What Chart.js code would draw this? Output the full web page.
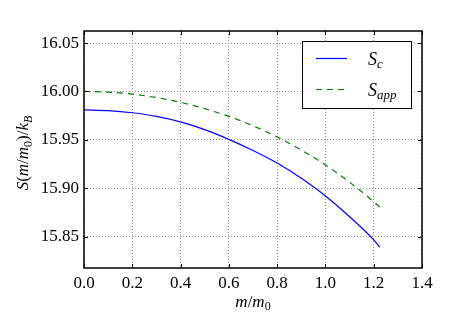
<!DOCTYPE html>
<html>
<head>
<meta charset="utf-8">
<script src="https://cdn.jsdelivr.net/npm/chart.js@4.4.0/dist/chart.umd.min.js"></script>
<style>
  html, body { margin: 0; padding: 0; background: #fff; }
  #wrap { width: 469px; height: 313px; }
</style>
</head>
<body>
<div id="wrap"><canvas id="entropyChart" width="469" height="313"></canvas></div>
<script>
// --- Data ---
const mRatio = [0, 0.1, 0.2, 0.3, 0.4, 0.5, 0.6, 0.7, 0.8, 0.9, 1.0, 1.1, 1.2, 1.225];
const sC   = [15.981, 15.9802, 15.978, 15.9743, 15.9685, 15.9605, 15.9505, 15.939, 15.926, 15.9102, 15.892, 15.8705, 15.8466, 15.839];
const sApp = [16.000, 15.9993, 15.9972, 15.9937, 15.9887, 15.9822, 15.9742, 15.9645, 15.953, 15.9395, 15.924, 15.9062, 15.886, 15.8805];

const xTicks = [0, 0.2, 0.4, 0.6, 0.8, 1.0, 1.2, 1.4];
const yTicks = [15.85, 15.90, 15.95, 16.00, 16.05];

const SERIF = "'Liberation Serif', 'DejaVu Serif', serif";
const FONT_SIZE = 17;

// draw a run of pieces; each piece is [text, italic, subscript]
function drawMath(ctx, parts, x, y, size, align) {
    const fontFor = (p) => (p[1] ? 'italic ' : '') + (p[2] ? Math.round(size * 0.7) : size) + 'px ' + SERIF;
    let total = 0;
    parts.forEach(p => { ctx.font = fontFor(p); total += ctx.measureText(p[0]).width; });
    let cx = x;
    if (align === 'center') cx = x - total / 2;
    ctx.textAlign = 'left';
    ctx.textBaseline = 'alphabetic';
    parts.forEach(p => {
        ctx.font = fontFor(p);
        ctx.fillText(p[0], cx, p[2] ? y + size * 0.22 : y);
        cx += ctx.measureText(p[0]).width;
    });
}

const decorPlugin = {
    id: 'decor',
    afterDraw(chart) {
        const { ctx, chartArea: a, scales } = chart;
        ctx.save();
        ctx.fillStyle = '#000';
        ctx.strokeStyle = '#000';

        // inward tick marks on all four sides
        ctx.lineWidth = 1;
        const tl = 4;
        ctx.beginPath();
        xTicks.forEach(v => {
            const px = Math.round(scales.x.getPixelForValue(v)) + 0.5;
            ctx.moveTo(px, a.bottom); ctx.lineTo(px, a.bottom - tl);
            ctx.moveTo(px, a.top); ctx.lineTo(px, a.top + tl);
        });
        yTicks.forEach(v => {
            const py = Math.round(scales.y.getPixelForValue(v)) + 0.5;
            ctx.moveTo(a.left, py); ctx.lineTo(a.left + tl, py);
            ctx.moveTo(a.right, py); ctx.lineTo(a.right - tl, py);
        });
        ctx.stroke();

        // frame
        ctx.lineWidth = 1.5;
        ctx.strokeRect(a.left, a.top, a.width, a.height);

        // axis titles
        drawMath(ctx, [['m', true], ['/', false], ['m', true], ['0', false, true]],
            (a.left + a.right) / 2, 306.5, FONT_SIZE, 'center');
        ctx.save();
        ctx.translate(28, 153);
        ctx.rotate(-Math.PI / 2);
        drawMath(ctx, [['S', true], ['(', false], ['m', true], ['/', false], ['m', true], ['0', false, true],
            [')', false], ['/', false], ['k', true], ['B', true, true]], 0, 0, FONT_SIZE, 'center');
        ctx.restore();

        // legend box
        const lx = 302.5, ly = 41.5, lw = 109, lh = 67;
        ctx.fillStyle = '#fff';
        ctx.fillRect(lx, ly, lw, lh);
        ctx.lineWidth = 1;
        ctx.strokeStyle = '#000';
        ctx.strokeRect(lx, ly, lw, lh);
        const entries = [
            { ds: chart.data.datasets[0], y: 58.5, label: [['S', true], ['c', true, true]] },
            { ds: chart.data.datasets[1], y: 89.5, label: [['S', true], ['app', true, true]] }
        ];
        entries.forEach(e => {
            ctx.save();
            ctx.strokeStyle = e.ds.borderColor;
            ctx.lineWidth = e.ds.borderWidth;
            ctx.setLineDash(e.ds.borderDash || []);
            ctx.beginPath();
            ctx.moveTo(316, e.y);
            ctx.lineTo(347, e.y);
            ctx.stroke();
            ctx.restore();
            ctx.fillStyle = '#000';
            drawMath(ctx, e.label, 368, e.y + 6, FONT_SIZE + 1, 'left');
        });
        ctx.restore();
    }
};

function initChart() {
    const ctx = document.getElementById('entropyChart').getContext('2d');
    const gridOpts = { color: '#8a8a8a', lineWidth: 1, drawTicks: false };
    return new Chart(ctx, {
        type: 'line',
        data: {
            datasets: [
                {
                    label: 'S_c',
                    data: mRatio.map((m, i) => ({ x: m, y: sC[i] })),
                    borderColor: '#0000ff',
                    borderWidth: 1.2,
                    pointRadius: 0,
                    fill: false,
                    cubicInterpolationMode: 'monotone'
                },
                {
                    label: 'S_app',
                    data: mRatio.map((m, i) => ({ x: m, y: sApp[i] })),
                    borderColor: '#008000',
                    borderWidth: 1.2,
                    borderDash: [6, 5],
                    pointRadius: 0,
                    fill: false,
                    cubicInterpolationMode: 'monotone'
                }
            ]
        },
        options: {
            responsive: false,
            animation: false,
            layout: { padding: { left: 0, top: 31, right: 47, bottom: 0 } },
            plugins: {
                legend: { display: false },
                tooltip: { enabled: false }
            },
            scales: {
                x: {
                    type: 'linear',
                    min: 0,
                    max: 1.4,
                    afterBuildTicks: (scale) => { scale.ticks = xTicks.map(v => ({ value: v })); },
                    afterFit: (scale) => { scale.height = 45; },
                    border: { display: false, dash: [1, 2] },
                    grid: gridOpts,
                    ticks: {
                        padding: 5,
                        color: '#000',
                        font: { family: SERIF, size: FONT_SIZE },
                        callback: (v) => v.toFixed(1)
                    }
                },
                y: {
                    type: 'linear',
                    min: 15.8175,
                    max: 16.0625,
                    afterBuildTicks: (scale) => { scale.ticks = yTicks.map(v => ({ value: v })); },
                    afterFit: (scale) => { scale.width = 84; },
                    border: { display: false, dash: [1, 2] },
                    grid: gridOpts,
                    ticks: {
                        padding: 5,
                        color: '#000',
                        font: { family: SERIF, size: FONT_SIZE },
                        callback: (v) => v.toFixed(2)
                    }
                }
            }
        },
        plugins: [decorPlugin]
    });
}

document.addEventListener('DOMContentLoaded', () => {
    initChart();
});
</script>
</body>
</html>
